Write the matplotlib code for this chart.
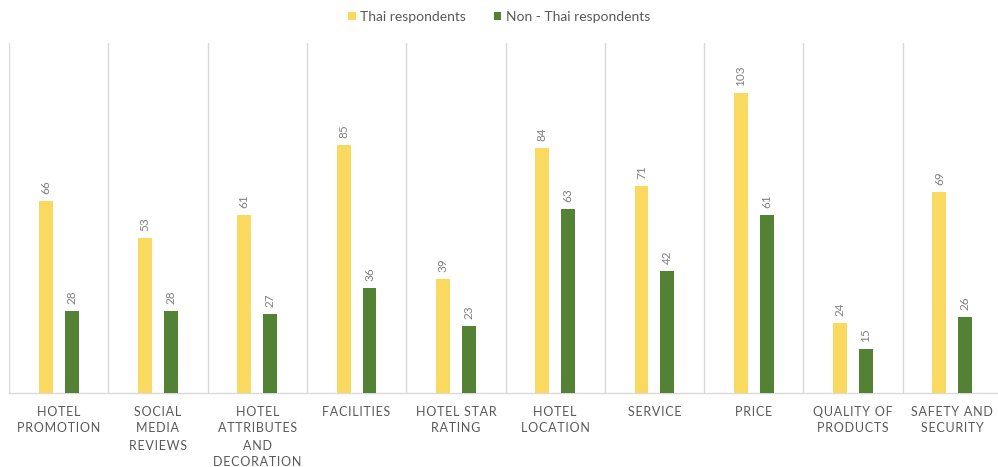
import matplotlib
matplotlib.use("Agg")
import matplotlib.pyplot as plt
import numpy as np

categories = ["HOTEL\nPROMOTION", "SOCIAL\nMEDIA\nREVIEWS", "HOTEL\nATTRIBUTES\nAND\nDECORATION",
              "FACILITIES", "HOTEL STAR\nRATING", "HOTEL\nLOCATION", "SERVICE", "PRICE",
              "QUALITY OF\nPRODUCTS", "SAFETY AND\nSECURITY"]
thai = [66, 53, 61, 85, 39, 84, 71, 103, 24, 69]
non_thai = [28, 28, 27, 36, 23, 63, 42, 61, 15, 26]
series_names = ["Thai respondents", "Non - Thai respondents"]

plt.rcParams["font.family"] = ["Lato", "DejaVu Sans"]

YELLOW = "#FAD961"
GREEN = "#548235"
GRID = "#D9D9D9"
TXT = "#595959"


def spaced(s):
    # widen tracking with hair spaces between letters
    return "\n".join("\u200a".join(line) for line in s.split("\n"))


fig = plt.figure(figsize=(9.98, 4.67), dpi=100)
ax = fig.add_axes([9 / 998, 1 - 393 / 467, (1002 - 9) / 998, (393 - 43) / 467])

x = np.arange(len(categories))
w = 0.14
off = 0.13
b1 = ax.bar(x - off, thai, w, color=YELLOW, label=series_names[0], zorder=3)
b2 = ax.bar(x + off, non_thai, w, color=GREEN, label=series_names[1], zorder=3)

for bars, vals in ((b1, thai), (b2, non_thai)):
    for r, v in zip(bars, vals):
        ax.annotate(str(v), (r.get_x() + r.get_width() / 2, v), xytext=(0, 5),
                    textcoords="offset points", rotation=90, ha="center", va="bottom",
                    fontsize=8.5, color="#7F7F7F")

ax.set_xlim(-0.5, len(categories) - 0.5)
ax.set_ylim(0, 120)
ax.set_yticks([])
ax.set_xticks(x)
ax.set_xticklabels([spaced(c) for c in categories], fontsize=9, color=TXT, linespacing=1.5)
ax.tick_params(axis="x", length=0, pad=9)

for b in np.arange(-0.5, len(categories), 1.0):
    ax.axvline(b, color=GRID, lw=1, zorder=1)
for s in ("top", "right", "left"):
    ax.spines[s].set_visible(False)
ax.spines["bottom"].set_color(GRID)
ax.spines["bottom"].set_linewidth(1)

fig.legend(handles=[b1, b2], loc="center", bbox_to_anchor=(0.5, 1 - 17 / 467), ncol=2,
           frameon=False, fontsize=10, labelcolor=TXT, handlelength=0.55, handleheight=0.55,
           handletextpad=0.3, columnspacing=2.0)

fig.savefig("out.png", dpi=100)
